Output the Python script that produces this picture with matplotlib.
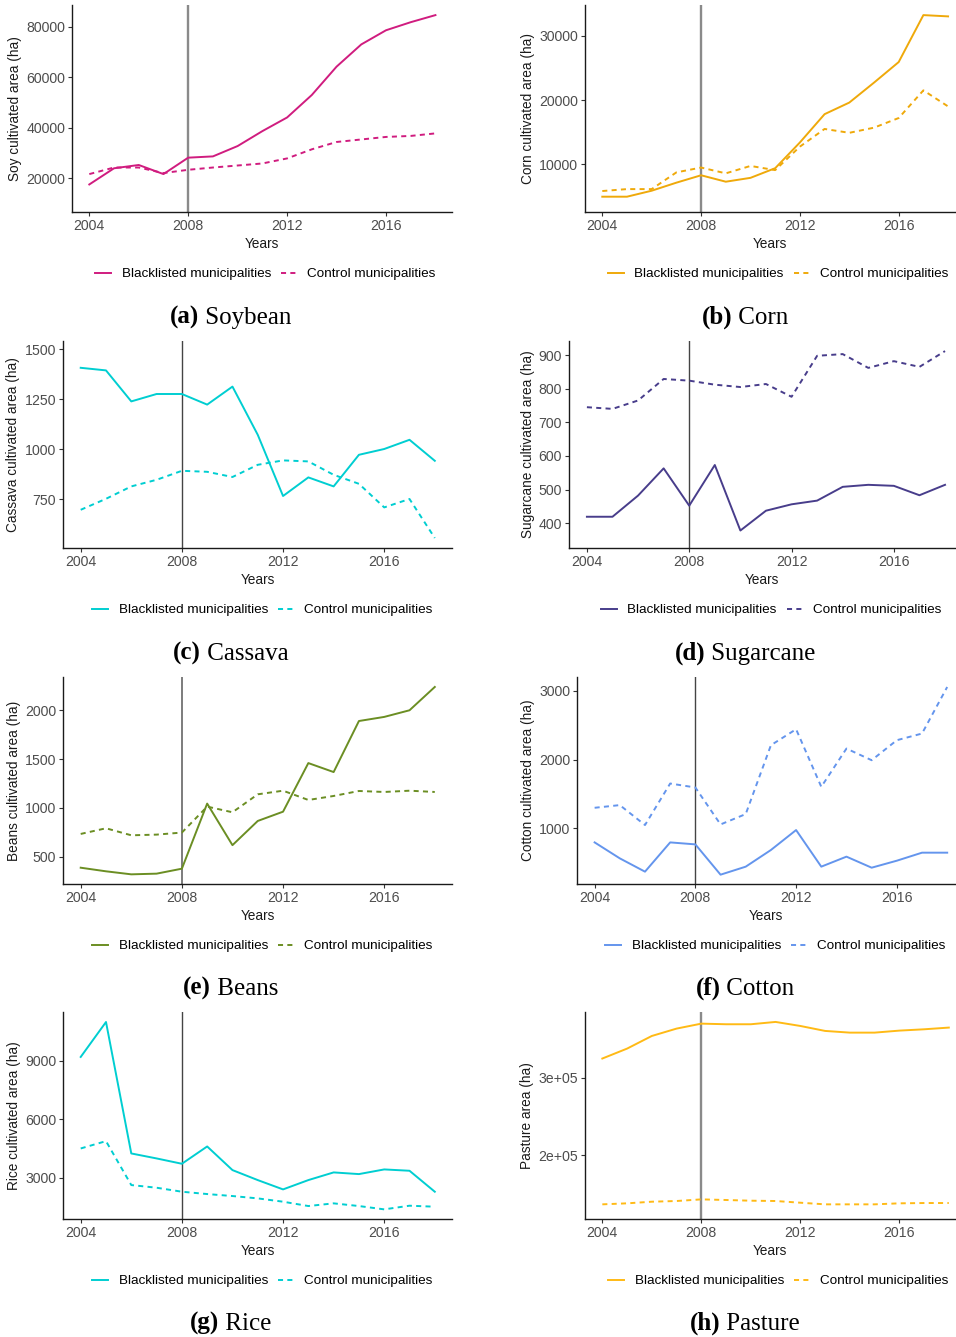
import numpy as np
import matplotlib
matplotlib.use("Agg")
import matplotlib.pyplot as plt
from matplotlib.ticker import FuncFormatter

# ——— data ———
years = list(range(2004, 2019))

soy_black = [17600, 24000, 25300, 21700, 28200, 28700, 32800, 38700, 44100,
             53000, 64200, 73000, 78600, 81800, 84600]
soy_ctrl = [21700, 24300, 24300, 22100, 23400, 24300, 25100, 25900, 27900,
            31500, 34400, 35400, 36400, 36800, 37800]

corn_black = [4970, 4970, 5900, 7150, 8300, 7300, 7900, 9400, 13400,
              17800, 19600, 22700, 25900, 33200, 33000]
corn_ctrl = [5850, 6150, 6150, 8750, 9500, 8600, 9750, 9100, 12750,
             15500, 14900, 15700, 17200, 21500, 19000]

cassava_black = [1408, 1395, 1240, 1277, 1277, 1224, 1314, 1073, 767,
                 860, 815, 973, 1002, 1048, 943]
cassava_ctrl = [698, 753, 815, 848, 893, 888, 862, 923, 945,
                940, 873, 828, 710, 752, 557]

sugar_black = [419, 419, 482, 563, 452, 573, 378, 437, 456,
               467, 508, 514, 511, 483, 514]
sugar_ctrl = [745, 740, 765, 829, 824, 812, 805, 814, 776,
              898, 903, 862, 882, 865, 912]

beans_black = [387, 350, 319, 326, 377, 1044, 618, 866, 961,
               1459, 1367, 1890, 1932, 2000, 2239]
beans_ctrl = [733, 791, 719, 726, 747, 1013, 955, 1139, 1176,
              1081, 1122, 1173, 1163, 1176, 1163]

cotton_black = [791, 558, 364, 791, 762, 320, 437, 680, 971,
                437, 583, 422, 524, 641, 641]
cotton_ctrl = [1296, 1335, 1044, 1650, 1592, 1053, 1204, 2209, 2442,
               1602, 2160, 1990, 2282, 2379, 3058]

rice_black = [9187, 10977, 4244, 3989, 3716, 4602, 3392, 2880, 2403,
              2880, 3273, 3187, 3426, 3358, 2284]
rice_ctrl = [4500, 4875, 2625, 2489, 2284, 2165, 2063, 1943, 1773,
             1551, 1688, 1551, 1381, 1568, 1517]

pasture_black = [324500, 337300, 353600, 363100, 369500, 368700, 368700, 371700,
                 366500, 360100, 357900, 357900, 360500, 362200, 364400]
pasture_ctrl = [136500, 137800, 139900, 140800, 142900, 142100, 141200, 140800,
                138600, 136500, 136500, 136500, 137800, 138200, 138200]

xticks = [2004, 2008, 2012, 2016]

W, H = 956, 1337
fig = plt.figure(figsize=(W / 100, H / 100), dpi=100)
plt.rcParams['font.family'] = ['Liberation Sans', 'DejaVu Sans']

def px_axes(l, t, r, b):
    return fig.add_axes([l / W, 1 - b / H, (r - l) / W, (b - t) / H])

panels = [
    # letter, name, ylabel, black, ctrl, colour, box(l,t,r,b), xmax, ylim, yticks, vline, legend x
    ('a', 'Soybean', 'Soy cultivated area (ha)', soy_black, soy_ctrl, '#D01C7F',
     (72, 5, 452, 212), 2018.67, (6700, 88600), [20000, 40000, 60000, 80000],
     ('#8a8a8a', 1.7), 265.5),
    ('b', 'Corn', 'Corn cultivated area (ha)', corn_black, corn_ctrl, '#EFA90A',
     (585, 5, 955, 212), 2018.28, (2590, 34770), [10000, 20000, 30000],
     ('#8a8a8a', 1.7), 778),
    ('c', 'Cassava', 'Cassava cultivated area (ha)', cassava_black, cassava_ctrl, '#00CED1',
     (63, 341, 452, 548), 2018.68, (507, 1542), [750, 1000, 1250, 1500],
     ('#444444', 1.0), 262.5),
    ('d', 'Sugarcane', 'Sugarcane cultivated area (ha)', sugar_black, sugar_ctrl, '#483D8B',
     (569, 341, 955, 548), 2018.39, (326, 942), [400, 500, 600, 700, 800, 900],
     ('#444444', 1.0), 771),
    ('e', 'Beans', 'Beans cultivated area (ha)', beans_black, beans_ctrl, '#6B8E23',
     (63, 677, 452, 884), 2018.68, (220, 2341), [500, 1000, 1500, 2000],
     ('#666666', 1.2), 262.5),
    ('f', 'Cotton', 'Cotton cultivated area (ha)', cotton_black, cotton_ctrl, '#6495ED',
     (577, 677, 955, 884), 2018.31, (184, 3204), [1000, 2000, 3000],
     ('#444444', 1.0), 775.5),
    ('g', 'Rice', 'Rice cultivated area (ha)', rice_black, rice_ctrl, '#00CED1',
     (63, 1012, 452, 1219), 2018.68, (887, 11489), [3000, 6000, 9000],
     ('#444444', 1.0), 262.5),
    ('h', 'Pasture', 'Pasture area (ha)', pasture_black, pasture_ctrl, '#FFBA15',
     (585, 1012, 955, 1219), 2018.25, (117600, 384500), [200000, 300000],
     ('#8a8a8a', 1.7), 778.5),
]

cap_x = [231, 745]
cap_y = [324, 660, 995, 1330]

captions = []
for i, (letter, name, ylab, blk, ctl, col, box, xmax, ylim, yt, vl, legx) in enumerate(panels):
    ax = px_axes(*box)
    ax.axvline(2008, color=vl[0], lw=vl[1], zorder=1)
    ax.plot(years, blk, color=col, lw=1.4, label='Blacklisted municipalities', zorder=3)
    ax.plot(years, ctl, color=col, lw=1.4, dashes=(2.6, 2.2),
            label='Control municipalities', zorder=3)
    ax.set_xlim(2003.3, xmax)
    ax.set_ylim(*ylim)
    ax.set_xticks(xticks)
    ax.set_yticks(yt)
    if letter == 'h':
        ax.yaxis.set_major_formatter(FuncFormatter(lambda v, p: f"{v/1e5:.0f}e+05"))
    for s in ['top', 'right']:
        ax.spines[s].set_visible(False)
    for s in ['left', 'bottom']:
        ax.spines[s].set_linewidth(1.0)
        ax.spines[s].set_color('#1a1a1a')
    ax.tick_params(length=3, width=0.8, color='#333333', pad=2,
                   labelsize=10.2, labelcolor='#4D4D4D')
    ax.set_xlabel('Years', fontsize=9.8, labelpad=3, color='#1a1a1a')
    ax.set_ylabel(ylab, fontsize=9.8, labelpad=3, color='#1a1a1a')

    l, t, r, b = box
    leg_y = b + 62
    ax.legend(loc='center', bbox_to_anchor=(legx / W, 1 - leg_y / H),
              bbox_transform=fig.transFigure, ncol=2, frameon=False,
              fontsize=9.7, handlelength=1.2, handletextpad=0.75,
              columnspacing=0.75, borderpad=0)

    cx = cap_x[i % 2] / W
    cy = 1 - cap_y[i // 2] / H
    t1 = fig.text(cx, cy, f"({letter})", fontsize=18, fontweight='bold',
                  family='Liberation Serif', va='baseline', ha='left')
    t2 = fig.text(cx, cy, f" {name}", fontsize=18, family='Liberation Serif',
                  va='baseline', ha='left')
    captions.append((t1, t2, cx))

# centre the two-part captions
renderer = fig.canvas.get_renderer()
for t1, t2, cx in captions:
    w1 = t1.get_window_extent(renderer).width / W
    w2 = t2.get_window_extent(renderer).width / W
    x0 = cx - (w1 + w2) / 2
    t1.set_x(x0)
    t2.set_x(x0 + w1)

fig.savefig('out.png', dpi=100)
